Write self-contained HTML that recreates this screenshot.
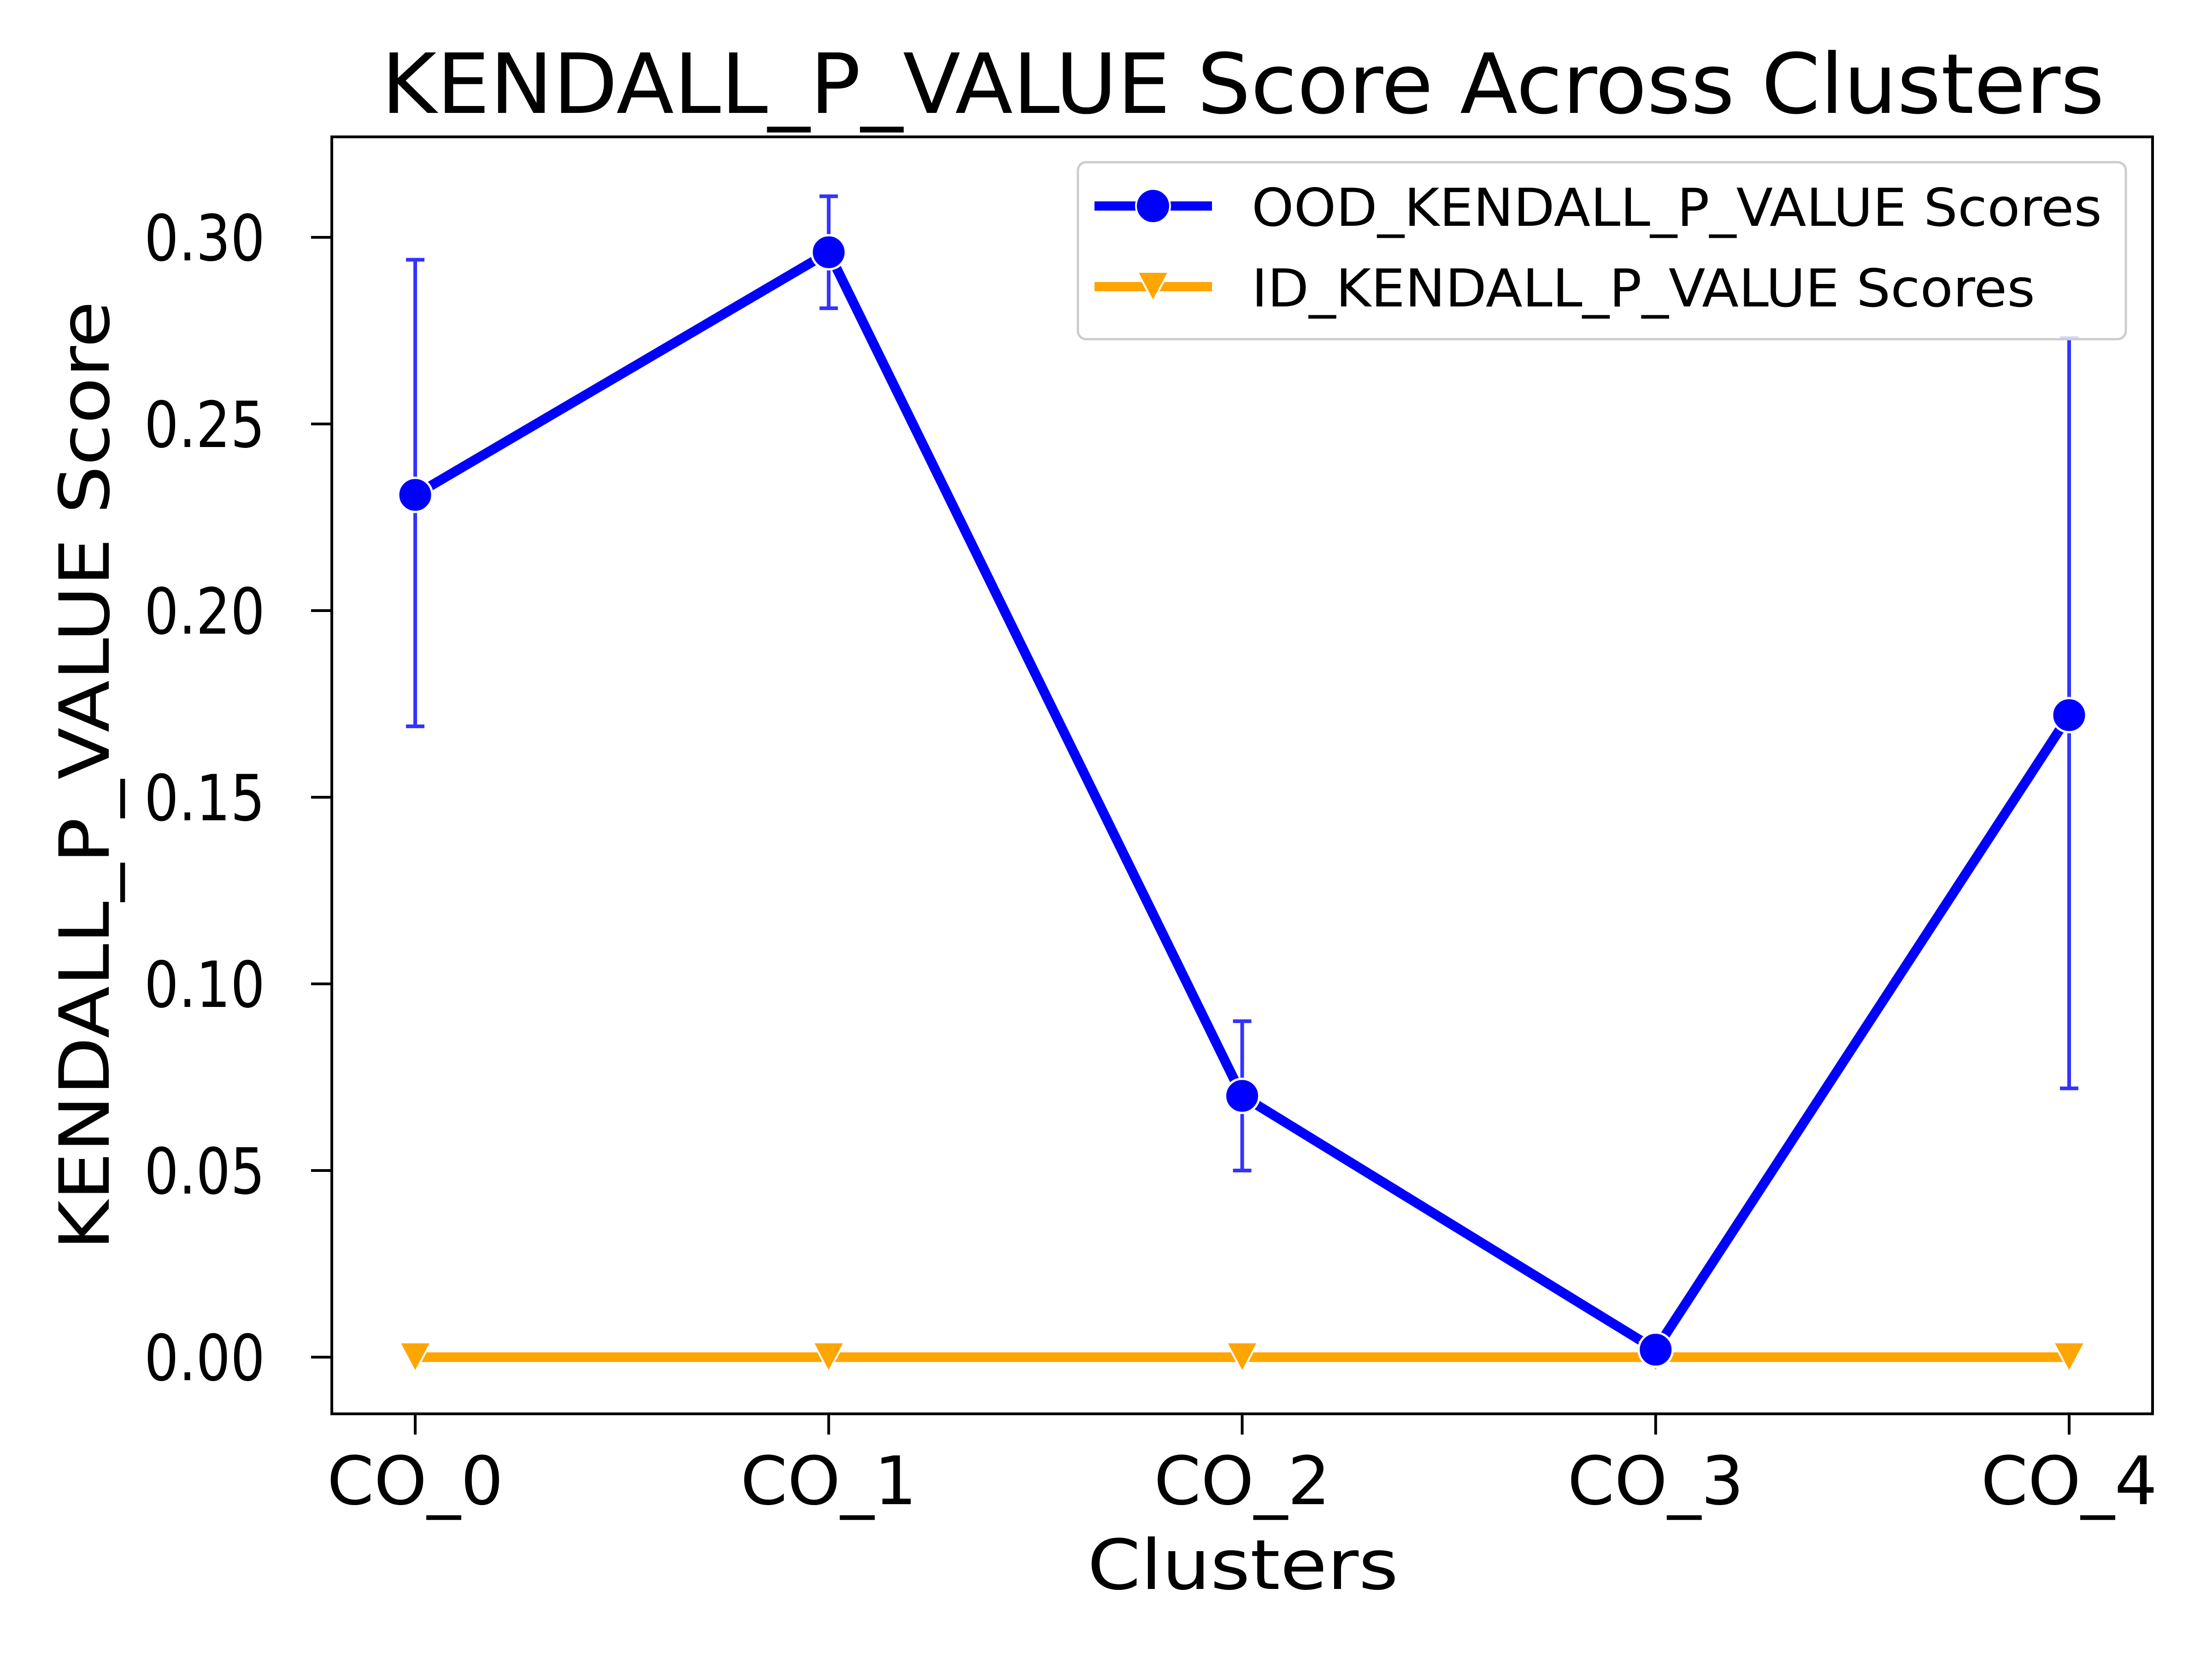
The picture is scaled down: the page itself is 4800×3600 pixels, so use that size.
<!DOCTYPE html>
<html><head><meta charset="utf-8"><style>
html,body{margin:0;padding:0;background:#fff}
svg{display:block}
text{font-family:"DejaVu Sans","Liberation Sans",sans-serif;fill:#000}
</style></head><body>
<svg id="chart" width="4800" height="3600" viewBox="0 0 4800 3600" xmlns="http://www.w3.org/2000/svg">
<rect width="4800" height="3600" fill="#fff"/>
<text x="2697" y="245" font-size="180" text-anchor="middle" textLength="3739" lengthAdjust="spacingAndGlyphs">KENDALL_P_VALUE Score Across Clusters</text>
<g id="plot"></g>
<rect x="720" y="297" width="3951" height="2771" fill="none" stroke="#000" stroke-width="6"/>
<text x="2697" y="3448" font-size="150" text-anchor="middle" textLength="675" lengthAdjust="spacingAndGlyphs">Clusters</text>
<text transform="translate(236,1683) rotate(-90)" x="0" y="0" font-size="150" text-anchor="middle" textLength="2060" lengthAdjust="spacingAndGlyphs">KENDALL_P_VALUE Score</text>
<g>
<rect x="2339" y="352" width="2274" height="384" rx="18" fill="#fff" fill-opacity="0.8" stroke="#ccc" stroke-width="5"/>
<g>
<line x1="2375" y1="447" x2="2630" y2="447" stroke="#0000ff" stroke-width="20"/>
<circle cx="2502" cy="447" r="37" fill="#0000ff" stroke="#fff" stroke-width="4"/>
<text x="2716" y="490" font-size="113" textLength="1845" lengthAdjust="spacingAndGlyphs">OOD_KENDALL_P_VALUE Scores</text>
</g>
<g>
<line x1="2375" y1="622" x2="2630" y2="622" stroke="#ffa500" stroke-width="20"/>
<polygon points="2468,590 2536,590 2502,654" fill="#ffa500" stroke="#fff" stroke-width="4"/>
<text x="2716" y="665" font-size="113" textLength="1700" lengthAdjust="spacingAndGlyphs">ID_KENDALL_P_VALUE Scores</text>
</g>
</g>
</svg>
<script>
const categories = ["CO_0","CO_1","CO_2","CO_3","CO_4"];
const oodValues = [0.231, 0.296, 0.070, 0.002, 0.172];
const oodLow = [0.169, 0.281, 0.050, 0.001, 0.072];
const oodHigh = [0.294, 0.311, 0.090, 0.003, 0.273];
const idValues = [0, 0, 0, 0, 0];
const yTicks = [0, 0.05, 0.10, 0.15, 0.20, 0.25, 0.30];
const yTickLabels = ["0.00","0.05","0.10","0.15","0.20","0.25","0.30"];

const NS = "http://www.w3.org/2000/svg";
const svg = document.getElementById("chart");
const plot = document.getElementById("plot");
const x = i => 901 + i * (4490 - 901) / (categories.length - 1);
const y = v => 2945 - v * (2945 - 515) / 0.30;
function mk(tag, attrs, parent) {
  const e = document.createElementNS(NS, tag);
  for (const k in attrs) e.setAttribute(k, attrs[k]);
  (parent || plot).appendChild(e);
  return e;
}
yTicks.forEach((t, i) => {
  const l = mk("line", {x1: 720 - 45, x2: 720, y1: y(t), y2: y(t), stroke: "#000", "stroke-width": 6}, svg);
  
  
  const tx = mk("text", {x: 575, y: y(t) + 50, "font-size": 138, "text-anchor": "end", textLength: 262, lengthAdjust: "spacingAndGlyphs"}, svg);
  tx.textContent = yTickLabels[i];
  
  
});
categories.forEach((c, i) => {
  const l = mk("line", {x1: x(i), x2: x(i), y1: 3068, y2: 3113, stroke: "#000", "stroke-width": 6}, svg);
  
  
  const tx = mk("text", {x: x(i), y: 3264, "font-size": 145, "text-anchor": "middle", textLength: 383, lengthAdjust: "spacingAndGlyphs"}, svg);
  tx.textContent = c;
  
  
});
categories.forEach((c, i) => {
  const g = mk("g", {stroke: "#3333ff", "stroke-width": 8});
  
  
  mk("line", {x1: x(i), x2: x(i), y1: y(oodLow[i]), y2: y(oodHigh[i])}, g);
  mk("line", {x1: x(i) - 20, x2: x(i) + 20, y1: y(oodLow[i]), y2: y(oodLow[i])}, g);
  mk("line", {x1: x(i) - 20, x2: x(i) + 20, y1: y(oodHigh[i]), y2: y(oodHigh[i])}, g);
});
const idLine = mk("polyline", {points: idValues.map((v, i) => x(i) + "," + y(v)).join(" "), fill: "none", stroke: "#ffa500", "stroke-width": 21});


const oodLine = mk("polyline", {points: oodValues.map((v, i) => x(i) + "," + y(v)).join(" "), fill: "none", stroke: "#0000ff", "stroke-width": 21, "stroke-linejoin": "round"});


idValues.forEach((v, i) => {
  const px = x(i), py = y(v);
  const p = mk("polygon", {points: `${px-34},${py-32} ${px+34},${py-32} ${px},${py+32}`, fill: "#ffa500", stroke: "#fff", "stroke-width": 4});
  
  
});
oodValues.forEach((v, i) => {
  const c = mk("circle", {cx: x(i), cy: y(v), r: 37, fill: "#0000ff", stroke: "#fff", "stroke-width": 5});
  
  
});
</script>
</body></html>
